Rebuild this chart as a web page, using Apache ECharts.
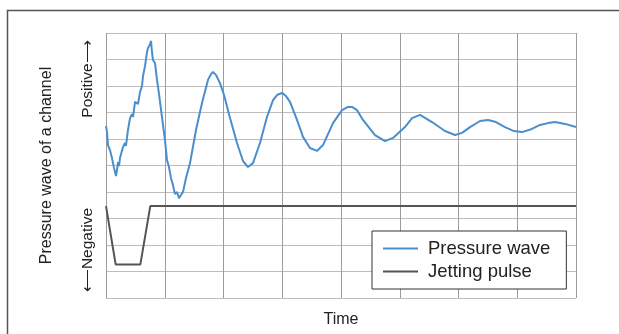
<!DOCTYPE html>
<html>
<head>
<meta charset="utf-8">
<script src="https://cdn.jsdelivr.net/npm/echarts@6/dist/echarts.min.js"></script>
<style>
  html, body { margin: 0; padding: 0; background: #fff; }
  #chart { width: 619px; height: 334px; }
</style>
</head>
<body>
<div id="chart"></div>
<script>
// series names
var seriesNames = ['Pressure wave', 'Jetting pulse'];

// pressure wave [time, level] (grid units)
var pressureWave = [
  [0.000, 6.49], [0.017, 6.26], [0.034, 5.77], [0.068, 5.58], [0.102, 5.28],
  [0.136, 4.91], [0.170, 4.60], [0.187, 4.83], [0.204, 5.13], [0.221, 4.98],
  [0.238, 5.28], [0.255, 5.21], [0.289, 5.70], [0.323, 5.85], [0.340, 5.74],
  [0.374, 6.34], [0.409, 6.79], [0.443, 6.94], [0.460, 6.83], [0.494, 7.40],
  [0.528, 7.47], [0.545, 7.32], [0.579, 7.77], [0.613, 8.00], [0.630, 8.38],
  [0.664, 8.75], [0.698, 9.28], [0.715, 9.43], [0.749, 9.58], [0.766, 9.70],
  [0.783, 9.28], [0.800, 8.98], [0.834, 8.87], [0.868, 8.23], [0.902, 7.70],
  [0.953, 6.83], [1.004, 5.96], [1.038, 5.21], [1.072, 4.94], [1.106, 4.53],
  [1.140, 4.26], [1.174, 3.92], [1.209, 4.00], [1.243, 3.77], [1.277, 3.89],
  [1.311, 4.00], [1.362, 4.53], [1.430, 5.09], [1.532, 6.34], [1.634, 7.36],
  [1.736, 8.23], [1.787, 8.45], [1.821, 8.53], [1.872, 8.42], [1.940, 8.11],
  [2.009, 7.66], [2.111, 6.79], [2.230, 5.85], [2.332, 5.17], [2.417, 4.94],
  [2.502, 5.09], [2.621, 5.85], [2.740, 6.83], [2.843, 7.47], [2.911, 7.66],
  [2.996, 7.74], [3.064, 7.62], [3.132, 7.40], [3.251, 6.72], [3.353, 6.08],
  [3.472, 5.66], [3.591, 5.55], [3.694, 5.77], [3.864, 6.60], [4.017, 7.09],
  [4.119, 7.21], [4.187, 7.21], [4.272, 7.09], [4.374, 6.72], [4.579, 6.15],
  [4.749, 5.92], [4.885, 6.04], [5.089, 6.45], [5.209, 6.79], [5.345, 6.91],
  [5.549, 6.64], [5.770, 6.30], [5.940, 6.15], [6.060, 6.23], [6.196, 6.45],
  [6.366, 6.68], [6.502, 6.72], [6.638, 6.64], [6.791, 6.45], [6.945, 6.30],
  [7.081, 6.26], [7.251, 6.38], [7.387, 6.53], [7.523, 6.60], [7.643, 6.64],
  [7.813, 6.57], [8.000, 6.45]
];

// jetting pulse [time, level]
var jettingPulse = [
  [0, 3.47], [0.165, 1.26], [0.584, 1.26], [0.754, 3.47], [8, 3.47]
];

var axisTitles = {
  x: 'Time',
  y: 'Pressure wave of a channel',
  pos: 'Positive\u27F6',
  neg: '\u27F5Negative'
};

var myChart = echarts.init(document.getElementById('chart'));

var option = {
  animation: false,
  backgroundColor: '#fff',
  grid: {
    left: 106,
    top: 33,
    width: 470,
    height: 265,
    containLabel: false
  },
  legend: {
    orient: 'vertical',
    left: 372,
    top: 231,
    padding: [8, 16, 8, 11],
    itemGap: 4,
    itemWidth: 35,
    itemHeight: 2,
    icon: 'rect',
    backgroundColor: '#fff',
    borderColor: '#333',
    borderWidth: 1,
    borderRadius: 0,
    data: seriesNames,
    textStyle: {
      fontFamily: 'Liberation Sans, Arial, sans-serif',
      fontSize: 18.5,
      color: '#222',
      padding: [0, 0, 0, 5]
    }
  },
  xAxis: {
    type: 'value',
    min: 0,
    max: 8,
    interval: 1,
    name: axisTitles.x,
    nameLocation: 'middle',
    nameGap: 14,
    nameTextStyle: {
      fontFamily: 'Liberation Sans, Arial, sans-serif',
      fontSize: 16,
      color: '#222'
    },
    axisLine: { show: false },
    axisTick: { show: false },
    axisLabel: { show: false },
    splitLine: { show: true, lineStyle: { color: '#9c9c9c', width: 1 } }
  },
  yAxis: {
    type: 'value',
    min: 0,
    max: 10,
    interval: 1,
    name: axisTitles.y,
    nameLocation: 'middle',
    nameGap: 51,
    nameRotate: 90,
    nameTextStyle: {
      fontFamily: 'Liberation Sans, Arial, sans-serif',
      fontSize: 16,
      color: '#222'
    },
    axisLine: { show: false },
    axisTick: { show: false },
    axisLabel: { show: false },
    splitLine: { show: true, lineStyle: { color: '#bdbdbd', width: 1 } }
  },
  graphic: [
    {
      type: 'rect',
      shape: { x: 7.5, y: 10.5, width: 800, height: 600 },
      style: { fill: 'none', stroke: '#555', lineWidth: 1.5 },
      silent: true
    },
    {
      type: 'text',
      x: 88,
      y: 79,
      rotation: Math.PI / 2,
      style: {
        text: axisTitles.pos,
        fontFamily: 'Liberation Sans, Arial, sans-serif',
        fontSize: 15.5,
        fill: '#222',
        align: 'center',
        verticalAlign: 'middle'
      }
    },
    {
      type: 'text',
      x: 88,
      y: 250,
      rotation: Math.PI / 2,
      style: {
        text: axisTitles.neg,
        fontFamily: 'Liberation Sans, Arial, sans-serif',
        fontSize: 15.5,
        fill: '#222',
        align: 'center',
        verticalAlign: 'middle'
      }
    }
  ],
  series: [
    {
      name: seriesNames[0],
      type: 'line',
      symbol: 'none',
      color: '#4a8fcb',
      lineStyle: { width: 2, color: '#4a8fcb' },
      data: pressureWave,
      z: 3
    },
    {
      name: seriesNames[1],
      type: 'line',
      symbol: 'none',
      color: '#555',
      lineStyle: { width: 2, color: '#555' },
      data: jettingPulse,
      z: 2
    }
  ]
};

myChart.setOption(option);
</script>
</body>
</html>
